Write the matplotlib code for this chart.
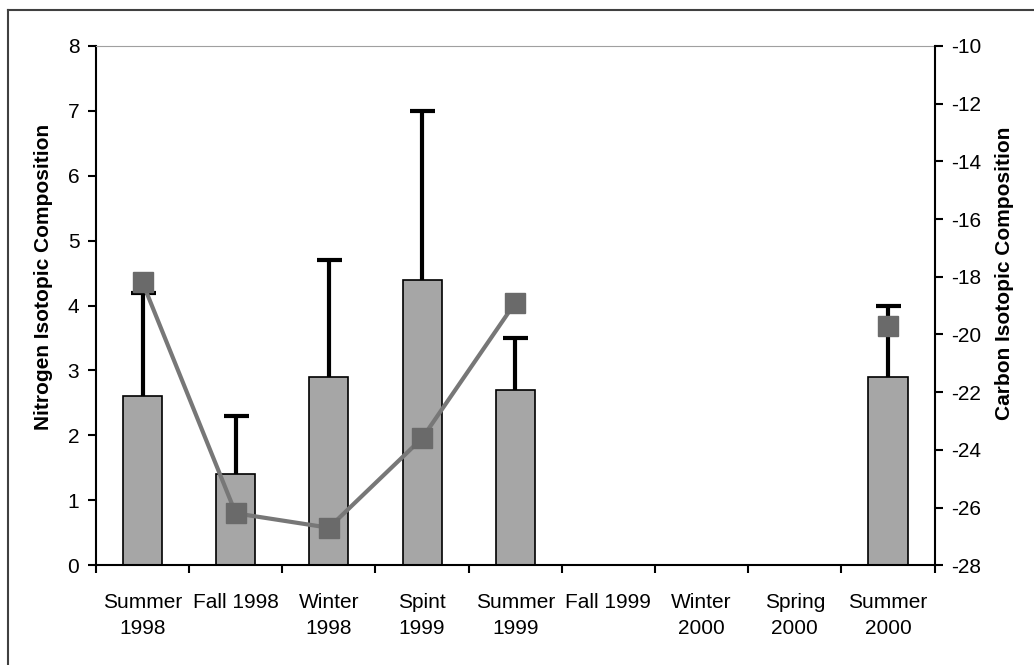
import numpy as np
import matplotlib.pyplot as plt
from matplotlib.lines import Line2D

plt.rcParams['font.family'] = ['Liberation Sans', 'DejaVu Sans']
plt.rcParams['axes.unicode_minus'] = False

# --- data ---
seasons = ['Summer\n1998', 'Fall 1998', 'Winter\n1998', 'Spint\n1999', 'Summer\n1999',
           'Fall 1999', 'Winter\n2000', 'Spring\n2000', 'Summer\n2000']
nitrogen = [2.6, 1.4, 2.9, 4.4, 2.7, np.nan, np.nan, np.nan, 2.9]
nitrogen_err = [1.6, 0.9, 1.8, 2.6, 0.8, np.nan, np.nan, np.nan, 1.1]
carbon = [-18.2, -26.2, -26.7, -23.6, -18.9, np.nan, np.nan, np.nan, -19.7]

x = np.arange(len(seasons))

fig = plt.figure(figsize=(10.34, 6.65), dpi=100)
ax = fig.add_axes([0.0928, 0.150, 0.811, 0.781])

# bars with upper-only error bars
ax.bar(x, nitrogen, width=0.42, color='#a6a6a6', edgecolor='black', linewidth=1.2, zorder=2)
n = np.array(nitrogen)
err = np.array(nitrogen_err)
eb = ax.errorbar(x, n, yerr=[np.zeros_like(err), err], fmt='none', ecolor='black',
                 elinewidth=3, capsize=9, capthick=3, zorder=3)
eb[1][0].set_visible(False)  # hide the lower caps

ax.set_xlim(-0.5, len(seasons) - 0.5)
ax.set_ylim(0, 8)
ax.set_yticks(range(0, 9))
ax.set_xticks(np.arange(len(seasons) + 1) - 0.5)
ax.set_xticklabels([])
ax.set_xticks(x, minor=True)
ax.set_xticklabels(seasons, minor=True, fontsize=15)
ax.tick_params(axis='x', which='minor', length=0, pad=20)
ax.tick_params(axis='x', which='major', direction='out', length=6, width=1.5)
ax.tick_params(axis='y', direction='out', length=6, width=1.5, labelsize=15, pad=6)
for lab in ax.get_xticklabels(minor=True):
    lab.set_linespacing(1.45)

ax.spines['top'].set_color('#a0a0a0')
ax.spines['right'].set_visible(False)
for s in ['left', 'bottom']:
    ax.spines[s].set_linewidth(1.5)
ax.set_ylabel('Nitrogen Isotopic Composition', fontsize=15, fontweight='bold')
ax.yaxis.set_label_coords(-0.062, 0.555)
ax.yaxis.label.set_va('center')

# carbon line on right axis
ax2 = ax.twinx()
ax2.plot(x, carbon, color='#777777', linewidth=3, marker='s', markersize=15,
         markerfacecolor='#6a6a6a', markeredgecolor='#6a6a6a', zorder=4)
ax2.set_ylim(-28, -10)
ax2.set_yticks(range(-28, -9, 2))
ax2.tick_params(axis='y', direction='out', length=6, width=1.5, labelsize=15, pad=6)
ax2.spines['top'].set_visible(False)
ax2.spines['left'].set_visible(False)
ax2.spines['bottom'].set_visible(False)
ax2.spines['right'].set_linewidth(1.5)
ax2.set_ylabel('Carbon Isotopic Composition', fontsize=15, fontweight='bold')
ax2.yaxis.set_label_coords(1.083, 0.563)
ax2.yaxis.label.set_va('center')

# outer chart frame (left and top edges visible)
fig.add_artist(Line2D([8 / 1034, 8 / 1034], [0, 1 - 10 / 665], transform=fig.transFigure,
                      color='#404040', linewidth=1.5))
fig.add_artist(Line2D([8 / 1034, 1], [1 - 10 / 665, 1 - 10 / 665], transform=fig.transFigure,
                      color='#404040', linewidth=1.5))

fig.savefig('out.png', dpi=100)
